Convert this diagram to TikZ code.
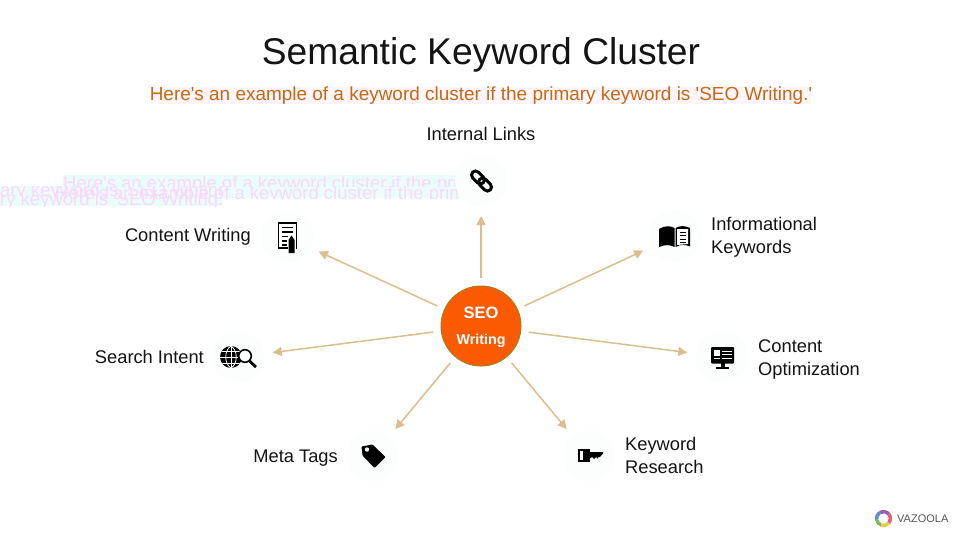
\documentclass[tikz,border=0pt]{standalone}
\usepackage{fontspec}
\setmainfont{Liberation Sans}
\newfontfamily\plainf{Liberation Sans}
\usetikzlibrary{arrows.meta}
\definecolor{tan}{HTML}{DCBD8C}
\definecolor{hubc}{HTML}{FA5A02}
\definecolor{hubb}{HTML}{A5801E}
\definecolor{subc}{HTML}{C46A14}
\definecolor{subbg}{HTML}{FFF5FC}
\definecolor{ink}{HTML}{141414}
\definecolor{halo}{HTML}{FCFDFD}
\definecolor{ghostm}{HTML}{FBD8FB}
\definecolor{ghostc}{HTML}{EAFDFD}
\tikzset{
  x=1pt,y=-1pt,
  halonode/.style={circle,fill=halo,minimum size=52pt,inner sep=0pt,outer sep=0pt},
  hubnode/.style={circle,fill=hubc,draw=hubb,line width=1pt,minimum size=80pt,inner sep=0pt,outer sep=0pt},
  arr/.style={draw=tan,line width=1.5pt,-{Triangle[length=9pt,width=9pt]},shorten <=8pt,shorten >=9pt},
  lab/.style={font=\fontsize{18.3}{23}\selectfont,text=ink,inner sep=0pt,align=left},
  ghost/.style={font=\plainf\fontsize{18.5}{20}\selectfont,text=ghostm,inner sep=0pt,anchor=base west}
}
\begin{document}
\begin{tikzpicture}
\useasboundingbox (0,0) rectangle (962,541);
\fill[white] (0,0) rectangle (962,541);
% ghost artefact
\fill[ghostc] (63,175) rectangle (460,186);
\fill[ghostc] (0,186) rectangle (460,198);
\fill[ghostc] (0,198) rectangle (222,206);
\begin{scope}
\clip (0,175) rectangle (460,186);
\node[ghost] (g1) at (63,189) {Here's an example of a keyword cluster if the primary};
\end{scope}
\begin{scope}
\clip (0,186) rectangle (460,198);
\node[ghost] (g2) at (55,199) {Here's an example of a keyword cluster if the prim};
\end{scope}
\begin{scope}
\clip (0,186) rectangle (222,195);
\node[ghost] (g3) at (0,196) {ary keyword is 'SEO Writing.'};
\end{scope}
\begin{scope}
\clip (0,195) rectangle (222,206);
\node[ghost] (g4) at (0,205) {ry keyword is 'SEO Writing.'};
\end{scope}
% title
\fill[subbg] (151,87) rectangle (811,104);
\node[font=\fontsize{37.2}{40}\selectfont,text=ink,inner sep=0pt,anchor=base] (title) at (481,64) {Semantic Keyword Cluster};
\node[font=\plainf\fontsize{18.95}{22}\selectfont,text=subc,inner sep=0pt,anchor=base] (sub) at (481,100) {Here's an example of a keyword cluster if the primary keyword is 'SEO Writing.'};
% nodes
\node[hubnode] (hub) at (481,326) {};
\node[halonode] (nlink) at (481,181) {};
\node[halonode] (nbook) at (675,236) {};
\node[halonode] (nmon) at (722,357) {};
\node[halonode] (nkey) at (589,456) {};
\node[halonode] (ntag) at (373,456) {};
\node[halonode] (nglobe) at (238,357) {};
\node[halonode] (ndoc) at (287,237) {};
\node[font=\bfseries\fontsize{16.5}{20}\selectfont,text=white,inner sep=0pt] (hseo) at (481,312.5) {SEO};
\node[font=\bfseries\fontsize{14.3}{16}\selectfont,text=white,inner sep=0pt] (hwr) at (481,341) {Writing};
% connectors
\foreach \t in {nlink,nbook,nmon,nkey,ntag,nglobe,ndoc}
  \draw[arr] (hub) -- (\t);
% labels
\node[lab,anchor=center] (l1) at (481,134) {Internal Links};
\node[lab,anchor=east] (l2) at (251,237) {Content Writing};
\node[lab,anchor=east] (l3) at (204,357) {Search Intent};
\node[lab,anchor=east] (l4) at (338,458) {Meta Tags};
\node[lab,anchor=west] (l5) at (711,237.5) {Informational\\Keywords};
\node[lab,anchor=west] (l6) at (758,359.5) {Content\\Optimization};
\node[lab,anchor=west] (l7) at (625,455.5) {Keyword\\Research};
% link icon
\begin{scope}[shift={(481.5,181)},rotate=-45]
  \draw[black,line width=3pt,rounded corners=4pt] (-12.5,-4) rectangle (2.5,4);
  \draw[black,line width=3pt,rounded corners=4pt] (-2.5,-4) rectangle (12.5,4);
\end{scope}
% document icon
\draw[black,line width=1.7pt,fill=white] (278.5,223) rectangle (296.5,248);
\foreach \yy in {227.5,232,236.5} \draw[black,line width=1.1pt] (282,\yy) -- (293,\yy);
\draw[black,line width=1.1pt] (282,241) -- (287,241);
\draw[black,line width=1.1pt] (282,245) -- (287,245);
\fill[white] (287.5,234) rectangle (295.5,254);
\fill[black] (288.5,240) -- (291.5,235.5) -- (294.5,240) -- (294.5,253) -- (288.5,253) -- cycle;
% book icon
\fill[black] (659,229) .. controls (665,225.5) and (670,225.5) .. (674.5,228) -- (674.5,247) .. controls (670,244.5) and (665,244.5) .. (659,247) -- cycle;
\fill[black] (675.5,228) .. controls (680,225.5) and (685,225.5) .. (690,228) -- (690,246.5) .. controls (685,244) and (680,244.5) .. (675.5,247) -- cycle;
\fill[white] (677,229) -- (688,229) -- (688,244) -- (677,245) -- cycle;
\foreach \yy in {232,235.5,239,242.5} \draw[black,line width=1pt] (679.5,\yy) -- (686,\yy);
% monitor icon
\fill[black,rounded corners=1pt] (711,347) rectangle (734,363.5);
\fill[black] (720.5,363) rectangle (724.5,367);
\fill[black] (716,367) rectangle (729,369);
\fill[white] (714,350) rectangle (719.5,355.5);
\foreach \yy in {351,354.5,358} \draw[white,line width=1pt] (721.5,\yy) -- (732,\yy);
\draw[white,line width=1pt] (714,358.5) -- (719.5,358.5);
% key icon
\fill[black] (577.5,448.5) rectangle (590,462);
\fill[black] (590,452) -- (603,452) -- (603,453.5) -- (600,457) -- (598,457) -- (598,459) -- (596,457) -- (594,459) -- (592,457) -- (590,458.5) -- cycle;
\fill[white] (580,451) rectangle (582.5,459.5);
% tag icon
\fill[black,rounded corners=0.8pt] (361.5,446.5) -- (372.5,444.5) -- (385.5,457) -- (374.5,468) -- (362.5,455.5) -- cycle;
\fill[white] (367,449.5) circle (2.2);
% globe icon
\fill[black] (231,357) circle (11);
\begin{scope}
\clip (231,357) circle (11);
\draw[white,line width=0.8pt] (220,357) -- (242,357) (220,351) -- (242,351) (220,363) -- (242,363) (231,346) -- (231,368);
\draw[white,line width=0.8pt] (231,346) .. controls (224,350) and (224,364) .. (231,368);
\draw[white,line width=0.8pt] (231,346) .. controls (238,350) and (238,364) .. (231,368);
\end{scope}
\draw[black,line width=1.6pt,fill=white] (245,356) circle (6.3);
\draw[black,line width=2.8pt] (249.5,361) -- (256,367);
% logo
\begin{scope}[shift={(883.5,518.5)}]
  \foreach \a/\b/\c in {-40/40/E0607A,40/120/9A5FB5,120/190/5A8FCC,190/250/7DBB55,250/320/EBCB4A}{
    \definecolor{segc}{HTML}{\c}
    \fill[segc] ({8.6*cos(\a)},{-8.6*sin(\a)}) arc[start angle=-\a,end angle=-\b,radius=8.6] -- ({5.2*cos(\b)},{-5.2*sin(\b)}) arc[start angle=-\b,end angle=-\a,radius=5.2] -- cycle;
  }
\end{scope}
\node[font=\fontsize{11}{13}\selectfont,text=black!65,inner sep=0pt,anchor=west] (logo) at (897,519) {VAZOOLA};
\end{tikzpicture}
\end{document}
